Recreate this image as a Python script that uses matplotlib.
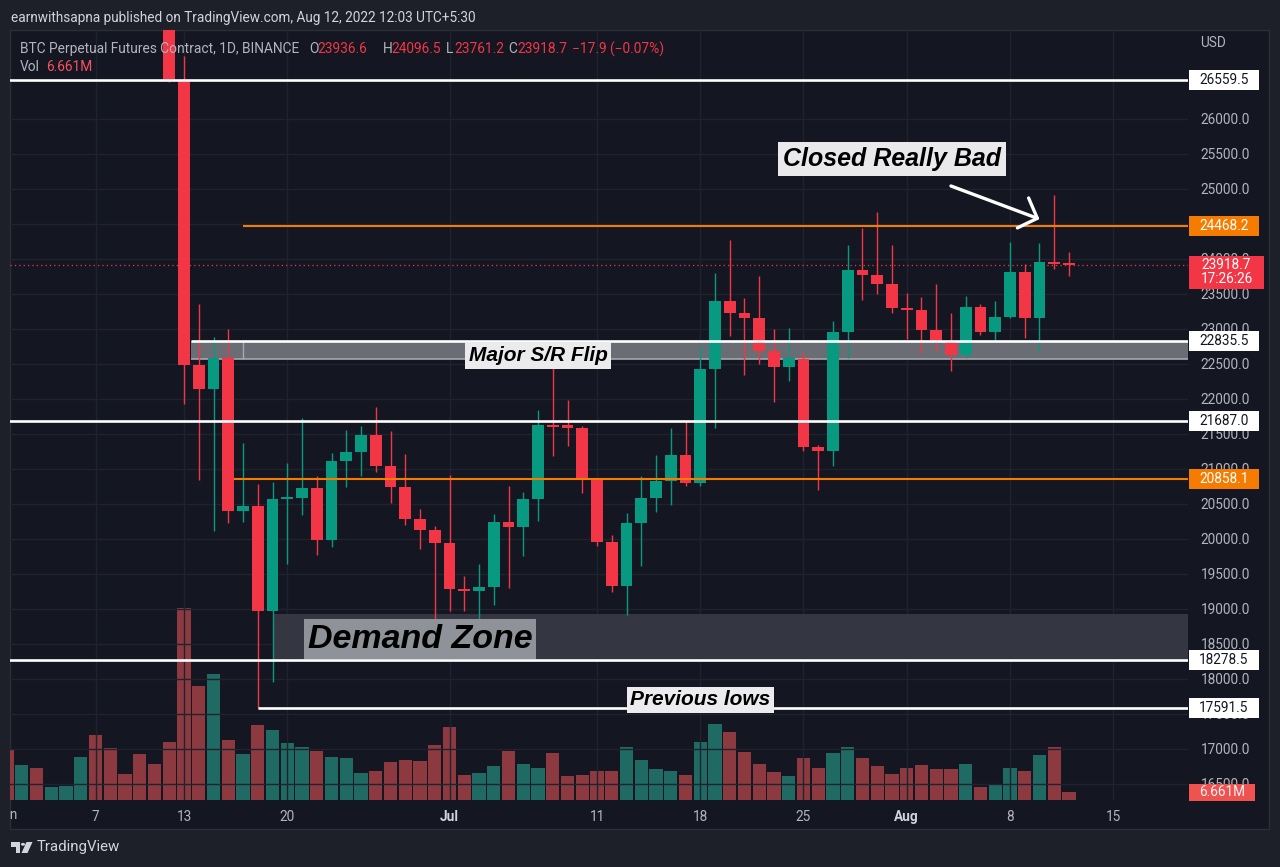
import numpy as np
import pandas as pd
import matplotlib
matplotlib.use('Agg')
import matplotlib.pyplot as plt
import matplotlib.dates as mdates
from matplotlib import transforms
from matplotlib.patches import Rectangle, Polygon, Circle
from matplotlib.transforms import Bbox, TransformedBbox

W, H = 1280, 867
plt.rcParams['font.family'] = ['Roboto', 'DejaVu Sans']

# ---- data (BTC perp, daily) ----
dates = pd.date_range('2022-06-01', '2022-08-12', freq='D')
opens = [31801, 29805, 30452, 29700, 29864, 29919, 31373, 31125, 30204, 30110, 29091, 28424,
         26559.5, 22485, 22136, 22583, 20400, 20468, 18970, 20574, 20580, 20723,
         19988, 21110, 21237, 21491, 21038, 20742, 20281, 20123,
         19942, 19280, 19253, 19316, 20237, 20176, 20565, 21625, 21595, 21592,
         20861, 19964, 19331, 20235, 20589, 20830, 21196, 20800, 22433, 23398,
         23223, 23152, 22685, 22451, 22577, 21311, 21255, 22954, 23845, 23777, 23645,
         23296, 23267, 22986, 22817, 22622, 23314, 22954, 23174, 23811, 23151, 23954, 23936.6]
highs = [31982, 30663, 30689, 29955, 30189, 31765, 31556, 31327, 30700, 30386, 29440, 28544,
         26895, 23362, 22890, 22995, 21365, 20792, 20815, 21090, 21723, 20900,
         21233, 21558, 21614, 21888, 21539, 21212, 20432, 20179,
         20918, 19467, 19647, 20354, 20750, 20675, 21838, 22527, 21980, 21608,
         20868, 20059, 20367, 20900, 21200, 21589, 21685, 22778, 23800, 24277,
         23443, 23756, 22999, 23015, 22666, 21348, 23113, 24200, 24443, 24668, 24195,
         23510, 23460, 23648, 23223, 23473, 23354, 23402, 24245, 23933, 24226, 24919, 24096.5]
lows = [29301, 29578, 29282, 29465, 29531, 29890, 29218, 29843, 29944, 28850, 28100, 26530,
        21925, 20846, 20111, 20232, 20246, 17591.5, 17960, 19637, 20348, 19770,
        19890, 20736, 20906, 20964, 20510, 20202, 19854, 18626,
        18975, 18977, 18781, 19055, 19304, 19761, 20252, 21189, 21322, 20655,
        19900, 19240, 18911, 19616, 20382, 20486, 20750, 20762, 21580, 22906,
        22341, 22500, 21950, 22257, 21250, 20706, 21043, 22582, 23414, 23502, 23227,
        22850, 22654, 22681, 22400, 22587, 22910, 22845, 23154, 22865, 22665, 23852, 23761.2]
closes = [29805, 30452, 29700, 29864, 29919, 31373, 31125, 30204, 30110, 29091, 28424, 26559.5,
          22487, 22136, 22583, 20401, 20468, 18970, 20574, 20580, 20723, 19988,
          21110, 21237, 21491, 21038, 20742, 20281, 20123, 19942,
          19280, 19253, 19316, 20237, 20176, 20565, 21625, 21595, 21592, 20862,
          19964, 19329, 20235, 20589, 20830, 21196, 20798, 22433, 23397, 23223,
          23152, 22685, 22451, 22580, 21311, 21255, 22952, 23843, 23774, 23644, 23293,
          23268, 22988, 22818, 22623, 23312, 22954, 23174, 23810, 23150, 23954, 23934, 23918.7]
# volume in millions
volumes = [41.7, 29.2, 26.7, 10.8, 11.9, 35.8, 53.9, 43.1, 21.7, 38.3, 30.2, 48.3,
           159.7, 95.0, 104.7, 50.0, 38.3, 62.5, 58.3, 47.5, 44.1, 41.1,
           35.8, 35.0, 22.5, 24.2, 31.7, 33.1, 32.2, 45.8,
           60.6, 20.8, 22.5, 28.3, 41.1, 30.2, 26.7, 39.2, 20.0, 20.8,
           24.2, 24.4, 43.9, 33.1, 25.8, 24.2, 20.8, 48.3, 63.6, 56.6,
           40.0, 30.0, 23.3, 20.2, 35.0, 26.4, 38.9, 43.9, 35.0, 28.3, 21.7,
           26.4, 29.2, 25.8, 25.8, 30.0, 10.8, 12.5, 26.4, 24.2, 37.5, 44.1, 6.661]

# levels drawn on the chart
top_level = 26559.5
resist_level = 24468.2
last_price = 23918.7
flip_top, flip_bottom = 22835.5, 22575
mid_level = 21687.0
support_level = 20858.1
demand_top, demand_bottom = 18930, 18278.5
prev_low = 17591.5

price_ticks = np.arange(16500, 26001, 500)
xtick_dates = ['2022-06-07', '2022-06-13', '2022-06-20', '2022-07-01', '2022-07-11',
               '2022-07-18', '2022-07-25', '2022-08-01', '2022-08-08', '2022-08-15']
xtick_labels = ['7', '13', '20', 'Jul', '11', '18', '25', 'Aug', '8', '15']

# ---- colours ----
BG_OUT = '#1d2029'
BG = '#141722'
GRID = '#1f2330'
TXT = '#b2b5be'
UP, DOWN = '#089981', '#f23645'
VUP, VDOWN = '#1f6b63', '#8c3a3f'
ORANGE = '#f57c00'


def fx(px):
    return px / W


def fy(py):
    return 1 - py / H


fig = plt.figure(figsize=(W / 100, H / 100), dpi=100, facecolor=BG_OUT)
fig.add_artist(Rectangle((fx(10), fy(829)), (1269 - 10) / W, (829 - 30) / H,
                         transform=fig.transFigure, fc=BG, ec='#2a2e39', lw=1, zorder=-5))

rect = [fx(10), fy(800), (1188 - 10) / W, (800 - 30) / H]
AX_H_PX = 770
ax = fig.add_axes(rect)
axv = fig.add_axes(rect, sharex=ax)
axv.set_zorder(1)
ax.set_zorder(2)
ax.patch.set_visible(False)
axv.axis('off')

x = mdates.date2num(dates)
o, h, l, c = map(np.array, (opens, highs, lows, closes))
up = c >= o
ref = mdates.date2num(pd.Timestamp('2022-06-13'))
ax.set_xlim(ref - 11.80, ref + 68.07)
ax.set_ylim(16271.4, 27271.4)
axv.set_ylim(0, 641.4)
x_right = ref + 68.07

# volume
axv.bar(x, volumes, width=0.9, color=np.where(up, VUP, VDOWN), linewidth=0)

# zones
d = lambda s: mdates.date2num(pd.Timestamp(s))
ax.add_patch(Rectangle((d('2022-06-19'), demand_bottom), x_right - d('2022-06-19'),
                       demand_top - demand_bottom, fc='#343741', ec='none', zorder=1))
ax.add_patch(Rectangle((d('2022-06-13 11:00'), flip_bottom), x_right - d('2022-06-13 11:00'),
                       flip_top - flip_bottom, fc='#6a6d74', ec='none', zorder=1))
ax.hlines(flip_bottom, d('2022-06-13 11:00'), x_right, color='#a6a9b0', lw=1.2, zorder=2)
ax.vlines(d('2022-06-17'), flip_bottom, flip_top, color='#a6a9b0', lw=1, zorder=2)

# candles
ccol = np.where(up, UP, DOWN)
ax.vlines(x, l, h, color=ccol, lw=1.0, zorder=4)
ax.bar(x, np.maximum(np.abs(c - o), 30), bottom=np.minimum(o, c), width=0.8,
       color=ccol, linewidth=0, zorder=5)

# horizontal levels
ax.axhline(last_price, color=DOWN, lw=0.9, ls=(0, (1, 2.5)), zorder=3)
ax.axhline(top_level, color='white', lw=1.9, zorder=6)
ax.axhline(mid_level, color='white', lw=1.9, zorder=6)
ax.axhline(demand_bottom, color='white', lw=1.9, zorder=6)
ax.hlines(flip_top, d('2022-06-13 11:00'), x_right, color='white', lw=1.9, zorder=6)
ax.hlines(prev_low, d('2022-06-18'), x_right, color='white', lw=1.9, zorder=6)
ax.hlines(resist_level, d('2022-06-17'), x_right, color=ORANGE, lw=1.5, zorder=6)
ax.hlines(support_level, d('2022-06-16 09:00'), x_right, color=ORANGE, lw=1.5, zorder=6)

# text annotations
lab = dict(family=['Liberation Sans', 'DejaVu Sans'], fontweight='bold', fontstyle='italic',
           color='black', ha='center', va='center', zorder=8)
ax.text(d('2022-07-31'), 25429, 'Closed Really Bad', fontsize=18,
        bbox=dict(boxstyle='square,pad=0.2', fc='#e9e9eb', ec='none'), **lab)
ax.text(d('2022-07-07'), 22621, 'Major S/R Flip', fontsize=15,
        bbox=dict(boxstyle='square,pad=0.18', fc='#ebebed', ec='none'), **lab)
ax.text(d('2022-06-29'), 18571, 'Demand Zone', fontsize=24.5,
        bbox=dict(boxstyle='square,pad=0.12', fc='#8f9299', ec='none'), **lab)
ax.text(d('2022-07-18'), 17700, 'Previous lows', fontsize=15,
        bbox=dict(boxstyle='square,pad=0.15', fc='#ececee', ec='none'), **lab)
ax.annotate('', xy=(d('2022-08-10'), 24570), xytext=(d('2022-08-04'), 25043),
            arrowprops=dict(arrowstyle='->,head_length=1.1,head_width=1.15', color='white',
                            lw=2.4, mutation_scale=10, shrinkA=0, shrinkB=0), zorder=8)

# axes styling
for s in ax.spines.values():
    s.set_visible(False)
ax.grid(True, color=GRID, lw=1)
ax.set_axisbelow(True)
ax.yaxis.tick_right()
ax.set_yticks(price_ticks)
ax.yaxis.set_major_formatter(plt.FuncFormatter(lambda v, p: f'{v:.1f}'))
ax.tick_params(axis='y', length=0, pad=9, labelsize=9.8, labelcolor=TXT)
ax.set_xticks([d(s) for s in xtick_dates])
ax.set_xticklabels(xtick_labels)
ax.tick_params(axis='x', length=0, pad=7, labelsize=9.8, labelcolor=TXT)
for t in ax.get_xticklabels():
    if t.get_text() in ('Jul', 'Aug'):
        t.set_fontweight('bold')
        t.set_color('#d1d4dc')
jun = fig.text(d('2022-06-01'), fy(815),
               'Jun', transform=transforms.blended_transform_factory(ax.transData, fig.transFigure),
               ha='center', va='center', fontsize=9.8, color=TXT)
jun.set_clip_box(TransformedBbox(Bbox.from_extents(fx(10), 0, 1, 1), fig.transFigure))
jun.set_clip_on(True)

# price scale tags
TAG_X0 = (1189 - 10) / 1178
TAG_W = 70 / 1178


def tag(price, label, fc, tc, axis=ax, hpx=20, w=TAG_W):
    y0, y1 = axis.get_ylim()
    hd = hpx * (y1 - y0) / AX_H_PX
    bl = transforms.blended_transform_factory(ax.transAxes, axis.transData)
    ax.add_patch(Rectangle((TAG_X0, price - hd / 2), w, hd, transform=bl, fc=fc, ec='none',
                           clip_on=False, zorder=10))
    ax.text(TAG_X0 + w / 2, price, label, transform=bl, ha='center', va='center', color=tc,
            fontsize=9.8, clip_on=False, zorder=11)


tag(top_level, f'{top_level:.1f}', 'white', '#131722')
tag(resist_level, f'{resist_level:.1f}', ORANGE, 'white')
tag(flip_top, f'{flip_top:.1f}', 'white', '#131722')
tag(mid_level, f'{mid_level:.1f}', 'white', '#131722')
tag(support_level, f'{support_level:.1f}', ORANGE, 'white')
tag(demand_bottom, f'{demand_bottom:.1f}', 'white', '#131722')
tag(prev_low, f'{prev_low:.1f}', 'white', '#131722')
tag(volumes[-1], f'{volumes[-1]:.3f}M', '#ef5350', '#f4f4f4', axis=axv, hpx=17, w=66 / 1178)

# last price tag (two lines)
y0, y1 = ax.get_ylim()
ppd = (y1 - y0) / AX_H_PX
bl = transforms.blended_transform_factory(ax.transAxes, ax.transData)
ax.add_patch(Rectangle((TAG_X0, last_price - 24.5 * ppd), 75 / 1178, 33 * ppd, transform=bl,
                       fc=DOWN, ec='none', clip_on=False, zorder=10))
ax.text(TAG_X0 + 37.5 / 1178, last_price, f'{last_price:.1f}', transform=bl, ha='center',
        va='center', color='white', fontsize=9.8, clip_on=False, zorder=11)
ax.text(TAG_X0 + 37.5 / 1178, last_price - 14.5 * ppd, '17:26:26', transform=bl, ha='center',
        va='center', color='white', fontsize=9.8, clip_on=False, zorder=11)

fig.text(fx(1200), fy(43), 'USD', ha='left', va='center', fontsize=9.8, color=TXT)

# header and legend
fig.text(fx(11), fy(18), 'earnwithsapna published on TradingView.com, Aug 12, 2022 12:03 UTC+5:30',
         ha='left', va='center', fontsize=9.8, color='#d1d4dc')
legend_parts = [(20, 'BTC Perpetual Futures Contract, 1D, BINANCE', TXT),
                (309, 'O', TXT), (317, f'{opens[-1]:.1f}', DOWN),
                (383, 'H', TXT), (391, f'{highs[-1]:.1f}', DOWN),
                (446, 'L', TXT), (454, f'{lows[-1]:.1f}', DOWN),
                (508, 'C', TXT), (517, f'{closes[-1]:.1f}', DOWN),
                (572, '\u221217.9 (\u22120.07%)', DOWN)]
for px, s, col in legend_parts:
    fig.text(fx(px), fy(49), s, ha='left', va='center', fontsize=9.9, color=col)
fig.text(fx(20), fy(67), 'Vol', ha='left', va='center', fontsize=9.9, color=TXT)
fig.text(fx(46), fy(67), f'{volumes[-1]:.3f}M', ha='left', va='center', fontsize=9.9, color='#f7525f')

# TradingView logo
LOGO = '#d1d4dc'
fig.add_artist(Polygon([(fx(11), fy(842)), (fx(20), fy(842)), (fx(20), fy(853)), (fx(15.5), fy(853)),
                        (fx(15.5), fy(846.5)), (fx(11), fy(846.5))], closed=True,
                       transform=fig.transFigure, fc=LOGO, ec='none'))
fig.add_artist(Circle((fx(23), fy(844.3)), 2.1 / W, transform=fig.transFigure, fc=LOGO, ec='none'))
fig.add_artist(Polygon([(fx(26.5), fy(842)), (fx(32.5), fy(842)), (fx(27.5), fy(853)), (fx(21.5), fy(853))],
                       closed=True, transform=fig.transFigure, fc=LOGO, ec='none'))
fig.text(fx(37), fy(847), 'TradingView', ha='left', va='center', fontsize=10.8, color=LOGO)

fig.savefig('out.png', dpi=100, facecolor=fig.get_facecolor())
